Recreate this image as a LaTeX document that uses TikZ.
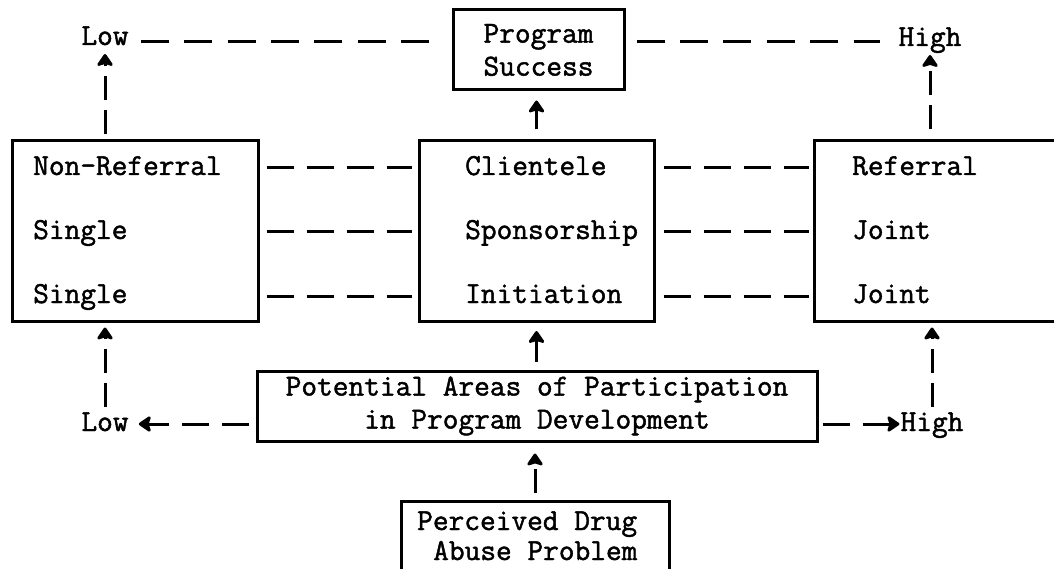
\documentclass[tikz,border=0pt]{standalone}
\usepackage{fontspec}
\usetikzlibrary{arrows.meta}
\newfontfamily\tw[FakeBold=1.5]{Latin Modern Mono}
\begin{document}
\begin{tikzpicture}[x=1pt,y=-1pt,
  box/.style={draw, line width=3pt, inner sep=0pt},
  txt/.style={inner sep=0pt, font=\tw\fontsize{30.5}{33}\selectfont},
  tline/.style={line width=3pt, dash pattern=on 28pt off 15.4pt},
  dline/.style={line width=3pt, dash pattern=on 27pt off 13pt},
  vline/.style={line width=3pt, dash pattern=on 24pt off 10pt},
  sline/.style={line width=3.3pt},
  bighead/.style={arrows={-Stealth[length=14pt,width=19pt,inset=3pt,round]}},
]
\useasboundingbox (0,0) rectangle (1054,569);

% top
\node[box, txt, align=center, minimum width=171pt, minimum height=80pt] (ps) at (538.5,50) {Program\\Success};
\node[txt, anchor=base] (lowt) at (105,45) {Low};
\node[txt, anchor=base] (hight) at (930,46) {High};
\coordinate (ytop) at (0,42);
\draw[tline, shorten <=12pt, shorten >=23pt] (lowt.east |- ytop) -- (ps.west |- ytop);
\draw[tline, shorten <=11pt, shorten >=18pt] (ps.east |- ytop) -- (hight.west |- ytop);

% three boxes
\node[box, minimum width=246pt, minimum height=180pt] (lb) at (135,231) {};
\node[box, minimum width=235pt, minimum height=181pt] (mb) at (536.5,231) {};
\node[box, minimum width=246pt, minimum height=180pt] (rb) at (937,231) {};

\node[txt, anchor=base west] (l1) at (33,175) {Non-Referral};
\node[txt, anchor=base west] (l2) at (33,239) {Single};
\node[txt, anchor=base west] (l3) at (33,303) {Single};
\node[txt, anchor=base west] (m1) at (465,175) {Clientele};
\node[txt, anchor=base west] (m2) at (465,239) {Sponsorship};
\node[txt, anchor=base west] (m3) at (465,303) {Initiation};
\node[txt, anchor=base west] (r1) at (852,175) {Referral};
\node[txt, anchor=base west] (r2) at (852,239) {Joint};
\node[txt, anchor=base west] (r3) at (852,303) {Joint};

\coordinate (y1) at (0,168);
\coordinate (y2) at (0,232);
\coordinate (y3) at (0,296);
\foreach \r in {y1,y2,y3}{
  \draw[dline, shorten <=7pt, shorten >=6pt] (lb.east |- \r) -- (mb.west |- \r);
  \draw[dline, shorten <=8pt, shorten >=4pt] (mb.east |- \r) -- (rb.west |- \r);
}

% upward arrows at top
\draw[vline, bighead, shorten <=5pt, shorten >=9pt] (lowt.base |- lb.north) -- (lowt.base);
\draw[vline, bighead, shorten <=10pt, shorten >=9pt] (hight.base |- rb.north) -- (hight.base);
\draw[sline, bighead, shorten <=9.5pt, shorten >=9pt] (mb.north) -- (mb.north |- ps.south);

% bottom
\node[box, txt, align=center, minimum width=560pt, minimum height=70pt] (pa) at (537,406) {Potential Areas of Participation\\in Program Development};
\node[txt, anchor=base] (lowb) at (105,431) {Low};
\node[txt, anchor=base] (highb) at (932,431) {High};
\coordinate (ybot) at (0,424);
\draw[dline, bighead, shorten <=7pt, shorten >=10pt] (pa.west |- ybot) -- (lowb.east |- ybot);
\draw[dline, bighead, shorten <=4pt, shorten >=1pt] (pa.east |- ybot) -- (highb.west |- ybot);

\draw[vline, bighead, shorten <=5pt, shorten >=5pt] (lowb.north) -- (lowb.north |- lb.south);
\draw[vline, bighead, shorten <=5pt, shorten >=5pt] (highb.north) -- (highb.north |- rb.south);
\draw[sline, bighead, shorten <=8pt, shorten >=8pt] (pa.north -| mb.south) -- (mb.south);

\node[box, minimum width=268pt, minimum height=80pt, anchor=north] (pd) at (535,500) {};
\node[txt, anchor=base west] (pd1) at (417,530) {Perceived Drug};
\node[txt, anchor=base west] (pd2) at (433,560) {Abuse Problem};
\draw[vline, bighead, shorten <=7pt, shorten >=11pt] (pd.north) -- (pd.north |- pa.south);
\end{tikzpicture}
\end{document}
